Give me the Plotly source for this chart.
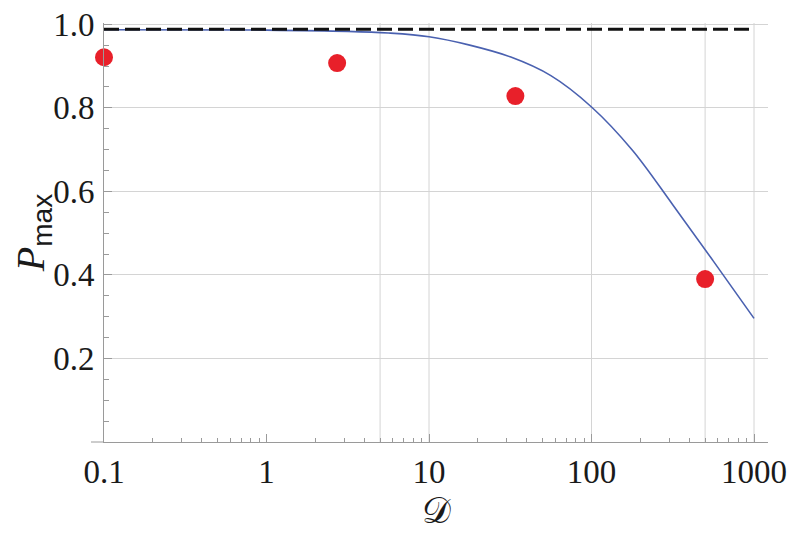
import plotly.graph_objects as go

# curve
curve_d = [0.1, 1, 3.16, 5.62, 10, 17.8, 31.6, 56.2, 100, 178, 316, 562, 1000]
curve_p = [0.987, 0.986, 0.983, 0.979, 0.970, 0.950, 0.922, 0.877, 0.802, 0.699, 0.568, 0.433, 0.296]

# simulation points
pts_d = [0.1, 2.72, 34, 500]
pts_p = [0.921, 0.907, 0.828, 0.390]

# dashed limit
limit_d = [0.1, 1000]
limit_p = [0.988, 0.988]

grid_x = [5, 10, 100, 500, 1000]
grid_col = '#d4d4d4'
axis_col = '#9a9a9a'
serif = 'Liberation Serif, Times New Roman, serif'

minor_x = [m * 10 ** e for e in range(-1, 3) for m in range(2, 10)]

fig = go.Figure()

for gx in grid_x:
    fig.add_shape(type='line', x0=gx, x1=gx, y0=0, y1=1, xref='x', yref='paper',
                  line=dict(color=grid_col, width=1), layer='below')

# x axis runs a bit left of the y axis
fig.add_shape(type='line', x0=-13 / 664, x1=0, y0=0, y1=0, xref='paper', yref='paper',
              line=dict(color=axis_col, width=1))

fig.add_trace(go.Scatter(x=curve_d, y=curve_p, mode='lines', line_shape='spline',
                         line=dict(color='#4a61b0', width=1.6), showlegend=False))
fig.add_trace(go.Scatter(x=limit_d, y=limit_p, mode='lines',
                         line=dict(color='#111111', width=3.2, dash='15px,6px'), showlegend=False))
fig.add_trace(go.Scatter(x=pts_d, y=pts_p, mode='markers', cliponaxis=False,
                         marker=dict(color='#e8202a', size=18), showlegend=False))

fig.update_xaxes(
    type='log', range=[-1, 3.086], automargin=False,
    tickvals=[0.1, 1, 10, 100, 1000], ticktext=['0.1', '1', '10', '100', '1000'],
    ticks='inside', ticklen=8, tickcolor=axis_col,
    minor=dict(tickvals=minor_x, ticks='inside', ticklen=4, tickcolor=axis_col, showgrid=False),
    showgrid=False, zeroline=False, showline=True, linecolor=axis_col, linewidth=1,
    ticklabeloverflow='allow',
    tickfont=dict(family=serif, size=33, color='#1a1a1a'),
    title=dict(text='𝒟', font=dict(family='DejaVu Serif, serif', size=36, color='#1a1a1a'), standoff=0),
)
fig.update_yaxes(
    range=[0, 1.003], automargin=False,
    tickvals=[0.2, 0.4, 0.6, 0.8, 1.0], ticktext=['0.2', '0.4', '0.6', '0.8', '1.0'],
    ticks='inside', ticklen=8, tickcolor=axis_col,
    minor=dict(dtick=0.05, tick0=0, ticks='inside', ticklen=5, tickcolor=axis_col, showgrid=False),
    showgrid=True, gridcolor=grid_col, gridwidth=1,
    zeroline=False, showline=True, linecolor=axis_col, linewidth=1,
    ticklabelstandoff=2, ticklabeloverflow='allow',
    tickfont=dict(family=serif, size=33, color='#1a1a1a'),
    title=dict(text="<i>P</i><sub><span style='font-family:Liberation Sans'>max</span></sub>",
               font=dict(family=serif, size=40, color='#1a1a1a'), standoff=0),
)

# page body has an 8px margin, so the figure is 8px smaller each way
fig.update_layout(
    width=792, height=526,
    margin=dict(l=96, r=32, t=15, b=92),
    plot_bgcolor='white', paper_bgcolor='white',
)

fig.write_html("out.html")
